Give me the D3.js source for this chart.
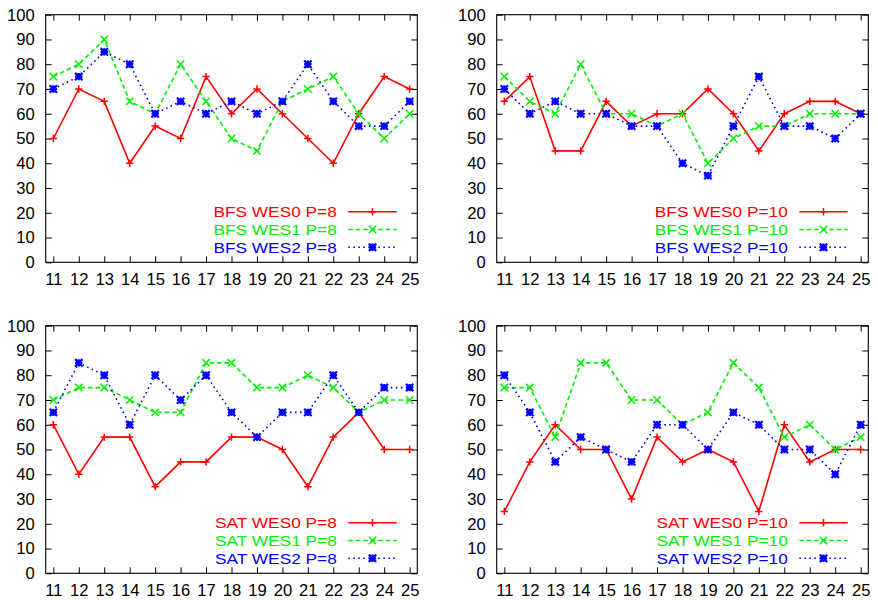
<!DOCTYPE html>
<html><head><meta charset="utf-8">
<script src="https://cdn.jsdelivr.net/npm/d3@7"></script>
<style>body{margin:0;background:#fff}svg{display:block}</style>
</head><body><svg id="c" width="878" height="600"></svg>
<script>
// ---- data ----
const xLabels = [11,12,13,14,15,16,17,18,19,20,21,22,23,24,25];
const yTickValues = [0,10,20,30,40,50,60,70,80,90,100];

const bfsP8Wes0 = [50,70,65,40,55,50,75,60,70,60,50,40,60,75,70];
const bfsP8Wes1 = [75,80,90,65,60,80,65,50,45,65,70,75,60,50,60];
const bfsP8Wes2 = [70,75,85,80,60,65,60,65,60,65,80,65,55,55,65];

const bfsP10Wes0 = [65,75,45,45,65,55,60,60,70,60,45,60,65,65,60];
const bfsP10Wes1 = [75,65,60,80,60,60,55,60,40,50,55,55,60,60,60];
const bfsP10Wes2 = [70,60,65,60,60,55,55,40,35,55,75,55,55,50,60];

const satP8Wes0 = [60,40,55,55,35,45,45,55,55,50,35,55,65,50,50];
const satP8Wes1 = [70,75,75,70,65,65,85,85,75,75,80,75,65,70,70];
const satP8Wes2 = [65,85,80,60,80,70,80,65,55,65,65,80,65,75,75];

const satP10Wes0 = [25,45,60,50,50,30,55,45,50,45,25,60,45,50,50];
const satP10Wes1 = [75,75,55,85,85,70,70,60,65,85,75,55,60,50,55];
const satP10Wes2 = [80,65,45,55,50,45,60,60,50,65,60,50,50,40,60];

const seriesNames = ["WES0","WES1","WES2"];

// ---- styles ----
const seriesStyle = [
  {color:"#ff0000", dash:null,      marker:"plus"},
  {color:"#00f000", dash:"4.5,3",   marker:"cross"},
  {color:"#0000ff", dash:"1.6,3.4", marker:"star"}
];

const panels = [
  {algo:"BFS", p:8,  data:[bfsP8Wes0,bfsP8Wes1,bfsP8Wes2],   box:{l:45.7, r:417.3, t:14.7,  b:262.3}},
  {algo:"BFS", p:10, data:[bfsP10Wes0,bfsP10Wes1,bfsP10Wes2],box:{l:496.7,r:868.3, t:14.7,  b:262.3}},
  {algo:"SAT", p:8,  data:[satP8Wes0,satP8Wes1,satP8Wes2],   box:{l:45.7, r:417.3, t:325.7, b:573.3}},
  {algo:"SAT", p:10, data:[satP10Wes0,satP10Wes1,satP10Wes2],box:{l:496.7,r:868.3, t:325.7, b:573.3}}
];

const FONT = "'Liberation Sans', Arial, Helvetica, sans-serif";
const svg = d3.select("#c");

function markerPath(type, s){
  const plus = `M${-s},0H${s}M0,${-s}V${s}`;
  const cross = `M${-s},${-s}L${s},${s}M${-s},${s}L${s},${-s}`;
  if (type === "plus") return plus;
  if (type === "cross") return cross;
  return plus + cross;
}

panels.forEach(pn => {
  const {l,r,t,b} = pn.box;
  const x = d3.scaleLinear().domain([10.7, 25.3]).range([l, r]);
  const y = d3.scaleLinear().domain([0, 100]).range([b, t]);
  const g = svg.append("g");

  // axes (ticks inward, mirrored)
  const ax = [
    {axis: d3.axisLeft(y).tickValues(yTickValues).tickSize(-6).tickPadding(11), tr:`translate(${l},0)`},
    {axis: d3.axisRight(y).tickValues(yTickValues).tickSize(-6).tickFormat(""), tr:`translate(${r},0)`},
    {axis: d3.axisBottom(x).tickValues(xLabels).tickSize(-6).tickPadding(11.2).tickFormat(d3.format("d")), tr:`translate(0,${b})`},
    {axis: d3.axisTop(x).tickValues(xLabels).tickSize(-6).tickFormat(""), tr:`translate(0,${t})`}
  ];
  ax.forEach(a => {
    const ag = g.append("g").attr("transform", a.tr).call(a.axis);
    ag.select(".domain").remove();
    ag.selectAll(".tick line").attr("stroke","#000").attr("stroke-width",1);
    ag.selectAll(".tick text").attr("fill","#000").style("font-family",FONT).style("font-size","16.6px");
  });

  // frame
  g.append("rect").attr("x",l).attr("y",t).attr("width",r-l).attr("height",b-t)
    .attr("fill","none").attr("stroke","#000").attr("stroke-width",1.1);

  // series
  pn.data.forEach((vals, si) => {
    const st = seriesStyle[si];
    const pts = vals.map((v,i) => [xLabels[i], v]);
    const line = d3.line().x(d => x(d[0])).y(d => y(d[1]));

    // legend
    const ly = b - 50.6 + si * 17.8;
    const lx1 = r - 69, lx2 = r - 20.6;
    g.append("text").attr("transform", `translate(${r - 80.5},${ly}) scale(1.13,1)`)
      .attr("dy","0.36em")
      .attr("text-anchor","end").attr("fill", st.color)
      .style("font-family",FONT).style("font-size","15.3px")
      .text(`${pn.algo} ${seriesNames[si]} P=${pn.p}`);
    g.append("line").attr("x1",lx1).attr("x2",lx2).attr("y1",ly).attr("y2",ly)
      .attr("stroke",st.color).attr("stroke-width",1.6)
      .attr("stroke-dasharray", st.dash);
    g.append("path").attr("transform",`translate(${(lx1+lx2)/2},${ly})`)
      .attr("d", markerPath(st.marker, 3.7)).attr("fill","none")
      .attr("stroke",st.color).attr("stroke-width", st.marker==="star"?2.2:1.5);

    g.append("path").datum(pts).attr("d", line)
      .attr("fill","none").attr("stroke", st.color).attr("stroke-width",1.6)
      .attr("stroke-dasharray", st.dash).attr("stroke-linejoin","miter");

    g.selectAll(null).data(pts).enter().append("path")
      .attr("transform", d => `translate(${x(d[0])},${y(d[1])})`)
      .attr("d", markerPath(st.marker, 3.7)).attr("fill","none")
      .attr("stroke", st.color).attr("stroke-width", st.marker==="star"?2.2:1.5);
  });
});
</script>
</body></html>
